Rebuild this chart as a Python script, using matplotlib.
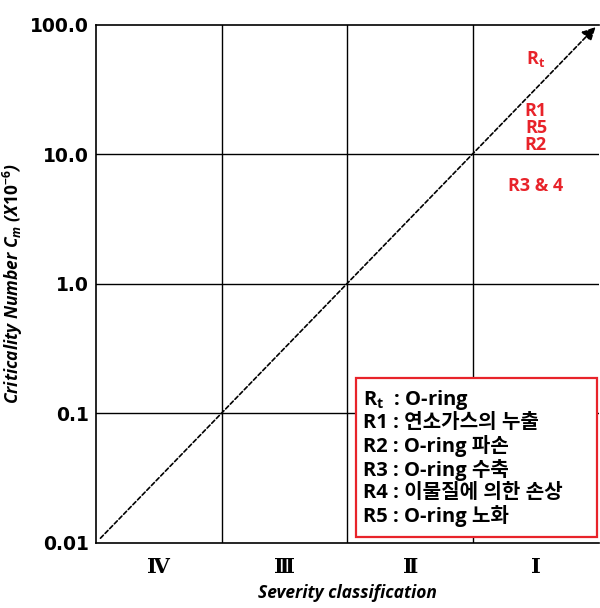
import numpy as np
import matplotlib.pyplot as plt
from matplotlib.patches import Rectangle

plt.rcParams['font.family'] = ['Open Sans', 'Noto Sans CJK KR', 'DejaVu Sans']
plt.rcParams['mathtext.fontset'] = 'custom'
plt.rcParams['mathtext.rm'] = 'Open Sans:bold'
plt.rcParams['mathtext.it'] = 'Open Sans:italic:bold'

severity = ["Ⅳ", "Ⅲ", "Ⅱ", "Ⅰ"]
y_ticks = [0.01, 0.1, 1.0, 10.0, 100.0]
y_tick_labels = ["0.01", "0.1", "1.0", "10.0", "100.0"]

# risk labels placed in column I (criticality value)
risk_names = ["$\\mathregular{R_t}$", "R1", "R5", "R2", "R3 & 4"]
risk_values = [55.0, 21.5, 16.0, 11.8, 5.7]

legend_lines = [
    "$\\mathregular{R_t}$  : O-ring",
    "R1 : 연소가스의 누출",
    "R2 : O-ring 파손",
    "R3 : O-ring 수축",
    "R4 : 이물질에 의한 손상",
    "R5 : O-ring 노화",
]

fig = plt.figure(figsize=(6, 6.08), dpi=100)
ax = fig.add_axes([0.16, 0.107, 0.838, 0.852])

ax.set_yscale('log')
ax.set_xlim(0, len(severity))
ax.set_ylim(y_ticks[0], y_ticks[-1])

# grid
for k in range(1, len(severity)):
    ax.axvline(k, color='black', lw=1.0)
for v in y_ticks[1:-1]:
    ax.axhline(v, color='black', lw=1.0)

for s in ax.spines.values():
    s.set_linewidth(1.2)
ax.spines['right'].set_visible(False)

ax.set_xticks(np.arange(len(severity)) + 0.5)
ax.set_xticklabels(severity, fontsize=15, fontweight='bold', family='DejaVu Serif')
ax.set_yticks(y_ticks)
ax.set_yticklabels(y_tick_labels, fontsize=13.5, fontweight='bold', family='DejaVu Sans')
ax.minorticks_off()
ax.tick_params(length=0, pad=5)
ax.tick_params(axis='x', pad=10)

# diagonal arrow
ax.annotate("", xy=(len(severity) - 0.01, y_ticks[-1]), xytext=(0.02, 0.0105),
            arrowprops=dict(arrowstyle='-|>', linestyle=(0, (2.5, 1.5)), color='black',
                            lw=1.2, mutation_scale=20))

for name, v in zip(risk_names, risk_values):
    ax.text(3.5, v, name, color='#e8232a', fontsize=13, fontweight='bold',
            ha='center', va='center')

# legend box
ax.add_patch(Rectangle((0.517, 0.012), 0.479, 0.306, transform=ax.transAxes,
                       fc='white', ec='#e8232a', lw=1.6, zorder=3))
ax.text(0.531, 0.165, "\n".join(legend_lines), transform=ax.transAxes,
        fontsize=14.5, fontweight='bold', ha='left', va='center',
        linespacing=1.12, zorder=4)

ax.set_xlabel("Severity classification", fontsize=12.5, fontweight='bold',
              style='italic', labelpad=5)
ax.set_ylabel("Criticality Number $C_m$ ($\\mathit{X10}^{\\mathit{-6}}$)",
              fontsize=12.5, fontweight='bold', style='italic', labelpad=4)

fig.savefig("out.png", dpi=100)
